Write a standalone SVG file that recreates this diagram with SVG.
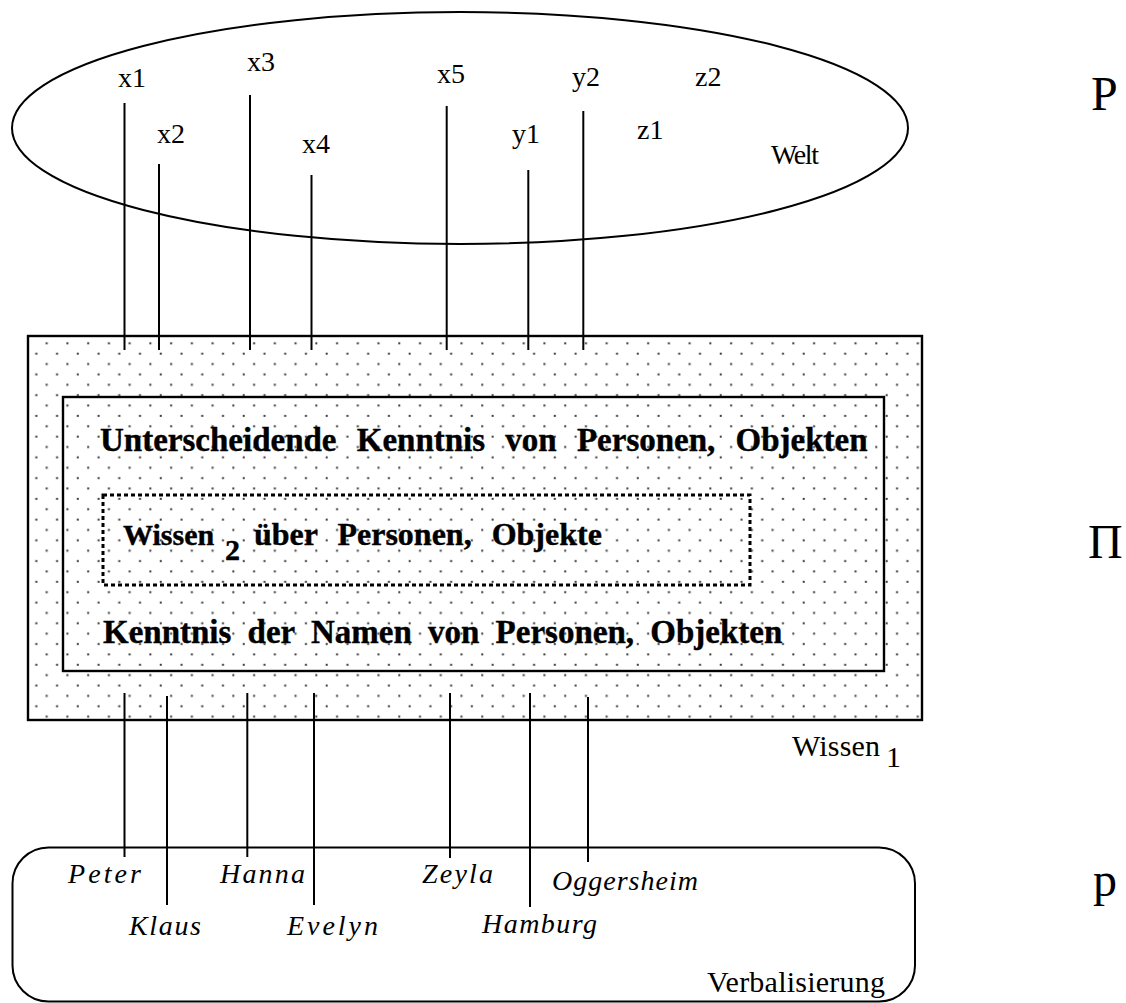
<svg xmlns="http://www.w3.org/2000/svg" width="1126" height="1003" viewBox="0 0 1126 1003">
  <defs>
    <pattern id="dots" patternUnits="userSpaceOnUse" x="41.5" y="338" width="20.74" height="20.74">
      <rect x="4.2" y="4.3" width="2" height="2" fill="#3a3a3a"/>
      <rect x="14.57" y="14.67" width="2" height="2" fill="#3a3a3a"/>
    </pattern>
    <style>
      .line { stroke: #000; stroke-width: 2; fill: none; }
      .box { stroke: #000; stroke-width: 2.4; }
      .lbl { font-family: "Liberation Serif", "Times New Roman", serif; font-size: 28px; fill: #000; }
      .it { font-family: "Liberation Serif", "Times New Roman", serif; font-size: 28px; font-style: italic; fill: #000; }
      .bold { font-family: "Liberation Serif", "Times New Roman", serif; font-size: 33px; font-weight: bold; fill: #000; stroke: #000; stroke-width: 0.4; }
      .big { font-family: "Liberation Serif", "Times New Roman", serif; font-size: 48px; fill: #000; }
      .reg30 { font-family: "Liberation Serif", "Times New Roman", serif; font-size: 30px; fill: #000; }
    </style>
  </defs>
  <rect width="1126" height="1003" fill="#fff"/>

  <g id="wissen1">
    <rect x="28" y="336" width="894" height="384" fill="url(#dots)" class="box"/>
    <text class="reg30" x="792" y="756" textLength="88">Wissen</text>
    <text class="reg30" x="886" y="767">1</text>
  </g>

  <g id="kenntnis">
    <rect x="63" y="397" width="821" height="274" fill="none" class="box"/>
    <text class="bold" x="100" y="451" word-spacing="12">Unterscheidende Kenntnis von Personen, Objekten</text>
    <text class="bold" x="103" y="643" word-spacing="8">Kenntnis der Namen von Personen, Objekten</text>
  </g>

  <g id="wissen2">
    <rect x="103" y="495" width="647" height="90" fill="none" stroke="#000" stroke-width="3" stroke-dasharray="4 3"/>
    <text class="bold" x="123" y="545" style="font-size:30px">Wissen</text>
    <text class="bold" x="225" y="560" style="font-size:30px">2</text>
    <text class="bold" x="254" y="545" style="font-size:32px" word-spacing="12">über Personen, Objekte</text>
  </g>

  <g id="welt">
    <ellipse cx="460" cy="128" rx="448" ry="116" class="line"/>
    <text class="lbl" x="118" y="87">x1</text>
    <text class="lbl" x="157" y="143">x2</text>
    <text class="lbl" x="247" y="71">x3</text>
    <text class="lbl" x="302" y="153">x4</text>
    <text class="lbl" x="437" y="83">x5</text>
    <text class="lbl" x="512" y="143">y1</text>
    <text class="lbl" x="572" y="86">y2</text>
    <text class="lbl" x="637" y="139">z1</text>
    <text class="lbl" x="695" y="86">z2</text>
    <text class="lbl" x="771" y="164" textLength="48">Welt</text>
  </g>

  <g id="verbalisierung">
    <rect x="12.5" y="847.5" width="902.5" height="154" rx="36" ry="36" fill="none" class="line"/>
    <text class="it" x="68" y="883" textLength="73">Peter</text>
    <text class="it" x="129" y="935" textLength="72">Klaus</text>
    <text class="it" x="220" y="883" textLength="85">Hanna</text>
    <text class="it" x="287" y="935" textLength="91">Evelyn</text>
    <text class="it" x="422" y="883" textLength="71">Zeyla</text>
    <text class="it" x="482" y="933" textLength="115">Hamburg</text>
    <text class="it" x="552" y="890" textLength="146">Oggersheim</text>
    <text class="reg30" x="707" y="992" textLength="178">Verbalisierung</text>
  </g>

  <g id="levels">
    <text class="big" x="1091" y="110">P</text>
    <text class="big" x="1088" y="558">Π</text>
    <text class="big" x="1093" y="896">p</text>
  </g>

  <g id="connectors">
    <line class="line" x1="124.5" y1="103" x2="124.5" y2="350"/>
    <line class="line" x1="159" y1="164" x2="159" y2="350"/>
    <line class="line" x1="250" y1="95" x2="250" y2="350"/>
    <line class="line" x1="311.5" y1="175" x2="311.5" y2="350"/>
    <line class="line" x1="446.7" y1="106" x2="446.7" y2="350"/>
    <line class="line" x1="528.3" y1="170" x2="528.3" y2="350"/>
    <line class="line" x1="583.3" y1="111" x2="583.3" y2="350"/>

    <line class="line" x1="124.5" y1="693" x2="124.5" y2="857"/>
    <line class="line" x1="167" y1="696" x2="167" y2="905"/>
    <line class="line" x1="247.3" y1="693" x2="247.3" y2="857"/>
    <line class="line" x1="314" y1="693" x2="314" y2="905"/>
    <line class="line" x1="450" y1="693" x2="450" y2="858"/>
    <line class="line" x1="530" y1="693" x2="530" y2="907"/>
    <line class="line" x1="588" y1="697" x2="588" y2="862"/>
  </g>
</svg>
